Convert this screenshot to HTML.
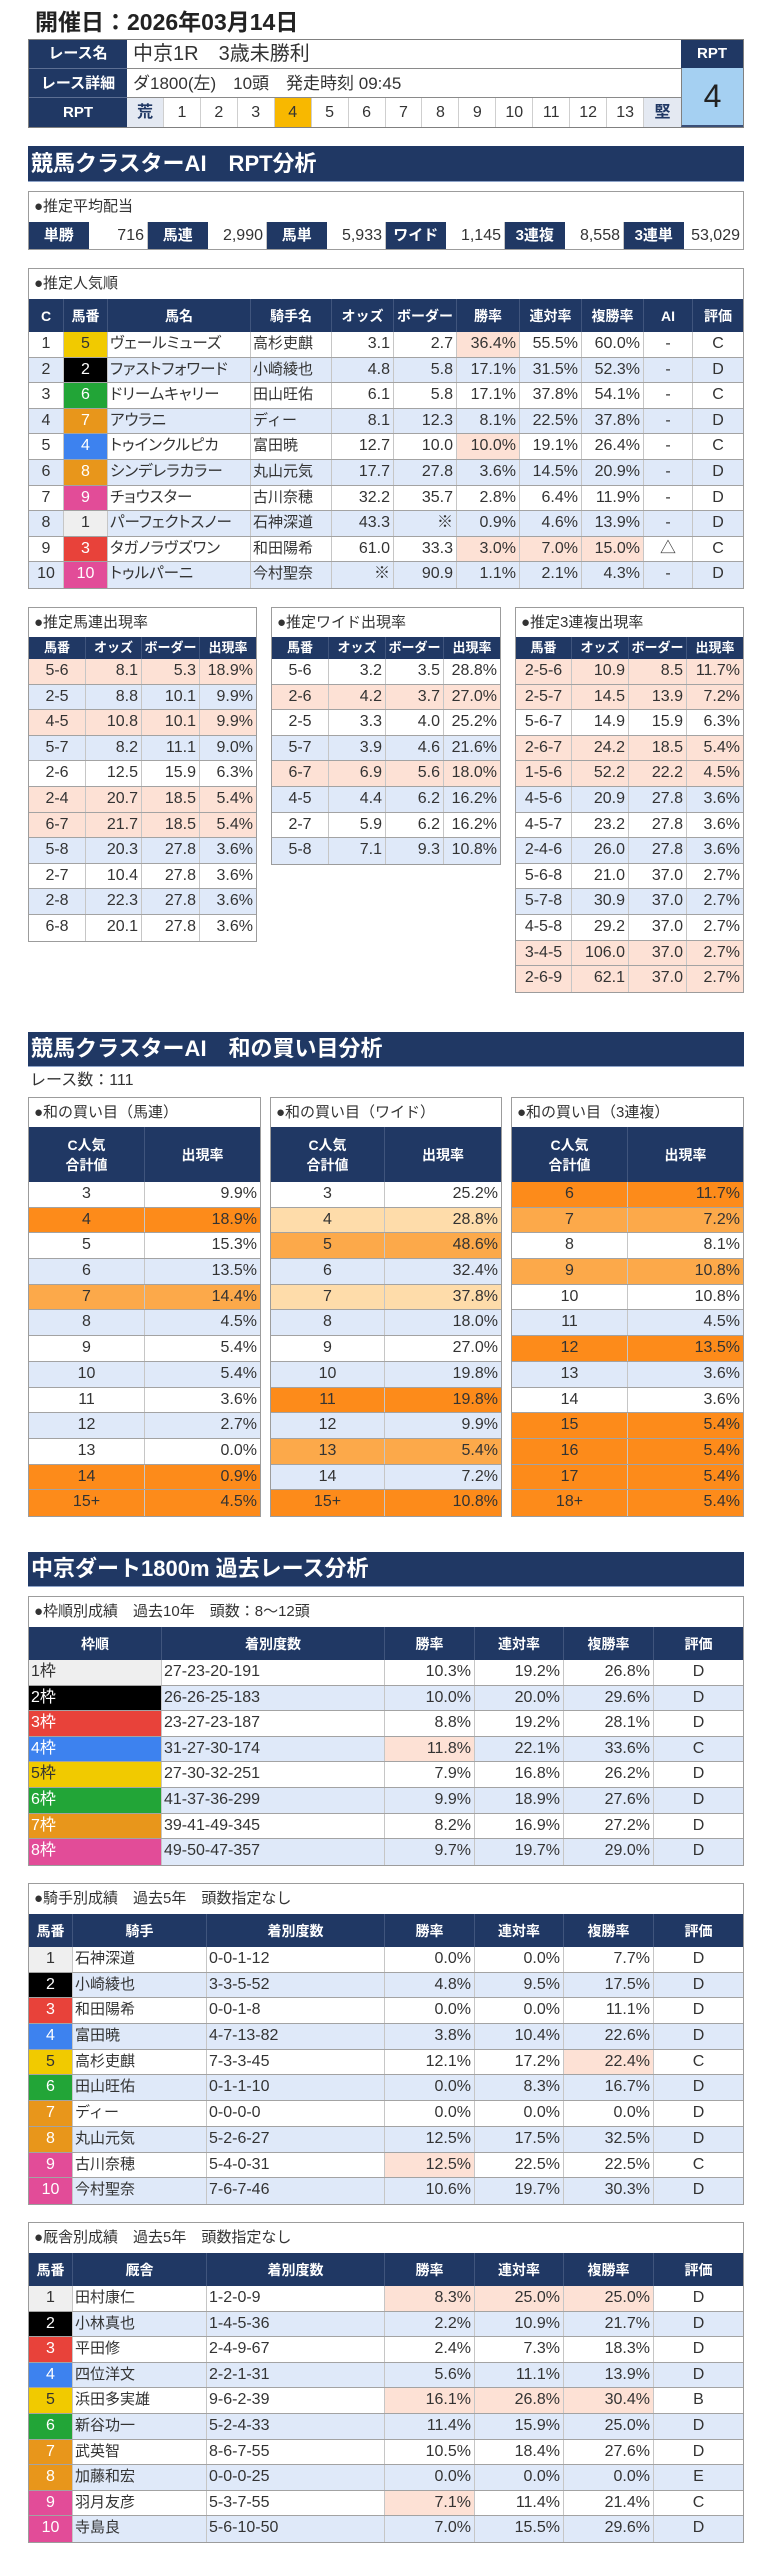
<!DOCTYPE html>
<html><head><meta charset="utf-8"><style>
*{box-sizing:border-box;margin:0;padding:0}
html,body{width:767px;height:2560px}
body{position:relative;background:#fff;font-family:"Liberation Sans","Noto Sans CJK JP",sans-serif;color:#333;overflow:hidden}
.title{position:absolute;left:35px;top:8px;font-size:23px;font-weight:bold;line-height:28px;color:#222;white-space:nowrap}
.bar{position:absolute;left:28px;width:716px;background:#203864;color:#fff;font-weight:bold;font-size:22px;padding-left:3px;border-bottom:1px solid #8ea4c9;white-space:nowrap}
.box{position:absolute;border:1px solid #9c9c9c;background:#fff}
.cap{height:30px;line-height:30px;font-size:15px;padding-left:5px;color:#333;white-space:nowrap}
.h,.r{display:grid}
.h{background:#203864;color:#fff;font-weight:bold;font-size:14px}
.h>div{display:flex;align-items:center;justify-content:center;text-align:center;border-right:1px solid #40557d;line-height:20px;white-space:nowrap}
.h>div:last-child,.r>div:last-child{border-right:none}
.r{height:25.6px;border-bottom:1px solid #a3a3a3}
.r:last-child{border-bottom:none}
.r>div{border-right:1px solid #c6c6c6;font-size:16px;line-height:24.6px;white-space:nowrap;overflow:hidden;padding:0 3px}
.b{background:#dfe9f9}
.r>div.s{background:#fde1d5}
.r.s{background:#fde1d5}
.r.od,.r>div.od{background:#fd8b1a}
.r.om,.r>div.om{background:#fca94a}
.r.ol,.r>div.ol{background:#fedcaa}
.R{text-align:right}
.C{text-align:center}
.L{padding-left:2px!important}
.nm{font-size:15.5px!important;font-feature-settings:"palt";padding-left:2px!important}
.jk{font-size:15px!important;padding-left:2px!important}
.r>div.f1{background:#efefef;color:#333}
.r>div.f2{background:#000;color:#fff}
.r>div.f3{background:#e8423a;color:#fff}
.r>div.f4{background:#3d82ef;color:#fff}
.r>div.f5{background:#f1ca00;color:#333}
.r>div.f6{background:#22a537;color:#fff}
.r>div.f7{background:#e8961b;color:#fff}
.r>div.f8{background:#e24c98;color:#fff}
.pop .h,.pop .r{grid-template-columns:35px 44px 143px 81px 62px 63px 63px 62px 62px 49px 1fr}
.sm .h{height:22px;font-size:13px}
.sm1 .h,.sm1 .r{grid-template-columns:57px 56px 58px 1fr}
.sm2 .h,.sm2 .r{grid-template-columns:57px 57px 58px 1fr}
.sm3 .h,.sm3 .r{grid-template-columns:56px 57px 58px 1fr}
.buy .h{height:55px}
.buy .r{height:25.7px}
.buy1 .h,.buy1 .r{grid-template-columns:116px 1fr}
.buy2 .h,.buy2 .r{grid-template-columns:114px 1fr}
.buy3 .h,.buy3 .r{grid-template-columns:116px 1fr}
.frm .h,.frm .r{grid-template-columns:133px 223px 90px 89px 90px 1fr}
.jt .h,.jt .r{grid-template-columns:44px 134px 178px 90px 89px 90px 1fr}
.h33{height:33px}
.hdr{position:absolute;left:28px;top:39px;width:716px;height:89px;border:1px solid #808080;background:#fff}
.hdr>div{position:absolute}
.lab{left:0;width:98px;background:#203864;color:#fff;font-weight:bold;font-size:15px;text-align:center;border-bottom:1px solid #5d6f93}
.val{left:98px;width:554px;border-bottom:1px solid #8a8a8a;padding-left:6px;white-space:nowrap}
.rptrow{display:grid;grid-template-columns:repeat(15,1fr)}
.rptrow>div{text-align:center;font-size:16px;line-height:29px;border-right:1px solid #cfcfcf}
.pay{display:grid;grid-template-columns:repeat(12,1fr);height:27px}
.pay>div{line-height:27px;font-size:16px;white-space:nowrap}
.pay .pl{background:#203864;color:#fff;font-weight:bold;font-size:15px;text-align:center}
.pay .pv{text-align:right;padding-right:3px;border-right:1px solid #c6c6c6}
</style></head><body>

<div class="title">開催日：2026年03月14日</div>

<div class="hdr">
  <div class="lab" style="top:0;height:28.5px;line-height:28px">レース名</div>
  <div class="lab" style="top:28.5px;height:29.5px;line-height:29px">レース詳細</div>
  <div class="lab" style="top:58px;height:29px;line-height:29px;border-bottom:none">RPT</div>
  <div class="val" style="top:0;height:28.5px;line-height:28px;font-size:20px">中京1R　3歳未勝利</div>
  <div class="val" style="top:28.5px;height:29.5px;line-height:29px;font-size:17px">ダ1800(左)　10頭　発走時刻 09:45</div>
  <div class="rptrow" style="left:98px;top:58px;width:554px;height:29px">
    <div style="background:#e4e9f2;color:#203864;font-weight:bold">荒</div><div>1</div><div>2</div><div>3</div><div style="background:#f8b800">4</div><div>5</div><div>6</div><div>7</div><div>8</div><div>9</div><div>10</div><div>11</div><div>12</div><div>13</div><div style="background:#e4e9f2;color:#203864;font-weight:bold;border-right:none">堅</div>
  </div>
  <div style="left:652px;top:0;width:62px;height:28px;background:#203864;color:#fff;font-weight:bold;font-size:15px;text-align:center;line-height:28px">RPT</div>
  <div style="left:652px;top:28px;width:62px;height:59px;background:#a5d0f2;color:#222;font-size:32px;text-align:center;line-height:57px;border-bottom:2px solid #3a4f78;border-left:1px solid #808080">4</div>
</div>

<div class="bar" style="top:146px;height:36px;line-height:35px">競馬クラスターAI　RPT分析</div>

<div class="box" style="left:28px;top:191px;width:716px">
  <div class="cap">●推定平均配当</div>
  <div class="pay">
    <div class="pl">単勝</div><div class="pv">716</div>
    <div class="pl">馬連</div><div class="pv">2,990</div>
    <div class="pl">馬単</div><div class="pv">5,933</div>
    <div class="pl">ワイド</div><div class="pv">1,145</div>
    <div class="pl">3連複</div><div class="pv">8,558</div>
    <div class="pl">3連単</div><div class="pv" style="border-right:none">53,029</div>
  </div>
</div>

<div class="box pop" style="left:28px;top:268px;width:716px">
  <div class="cap">●推定人気順</div>
  <div class="h h33"><div>C</div><div>馬番</div><div>馬名</div><div>騎手名</div><div>オッズ</div><div>ボーダー</div><div>勝率</div><div>連対率</div><div>複勝率</div><div>AI</div><div>評価</div></div>
  <div class="r"><div class="C">1</div><div class="C f5">5</div><div class="nm">ヴェールミューズ</div><div class="jk">高杉吏麒</div><div class="R">3.1</div><div class="R">2.7</div><div class="R s">36.4%</div><div class="R">55.5%</div><div class="R">60.0%</div><div class="C">-</div><div class="C">C</div></div>
  <div class="r b"><div class="C">2</div><div class="C f2">2</div><div class="nm">ファストフォワード</div><div class="jk">小崎綾也</div><div class="R">4.8</div><div class="R">5.8</div><div class="R">17.1%</div><div class="R">31.5%</div><div class="R">52.3%</div><div class="C">-</div><div class="C">D</div></div>
  <div class="r"><div class="C">3</div><div class="C f6">6</div><div class="nm">ドリームキャリー</div><div class="jk">田山旺佑</div><div class="R">6.1</div><div class="R">5.8</div><div class="R">17.1%</div><div class="R">37.8%</div><div class="R">54.1%</div><div class="C">-</div><div class="C">C</div></div>
  <div class="r b"><div class="C">4</div><div class="C f7">7</div><div class="nm">アウラニ</div><div class="jk">ディー</div><div class="R">8.1</div><div class="R">12.3</div><div class="R">8.1%</div><div class="R">22.5%</div><div class="R">37.8%</div><div class="C">-</div><div class="C">D</div></div>
  <div class="r"><div class="C">5</div><div class="C f4">4</div><div class="nm">トゥインクルピカ</div><div class="jk">富田暁</div><div class="R">12.7</div><div class="R">10.0</div><div class="R s">10.0%</div><div class="R">19.1%</div><div class="R">26.4%</div><div class="C">-</div><div class="C">C</div></div>
  <div class="r b"><div class="C">6</div><div class="C f7">8</div><div class="nm">シンデレラカラー</div><div class="jk">丸山元気</div><div class="R">17.7</div><div class="R">27.8</div><div class="R">3.6%</div><div class="R">14.5%</div><div class="R">20.9%</div><div class="C">-</div><div class="C">D</div></div>
  <div class="r"><div class="C">7</div><div class="C f8">9</div><div class="nm">チョウスター</div><div class="jk">古川奈穂</div><div class="R">32.2</div><div class="R">35.7</div><div class="R">2.8%</div><div class="R">6.4%</div><div class="R">11.9%</div><div class="C">-</div><div class="C">D</div></div>
  <div class="r b"><div class="C">8</div><div class="C f1">1</div><div class="nm">パーフェクトスノー</div><div class="jk">石神深道</div><div class="R">43.3</div><div class="R">※</div><div class="R">0.9%</div><div class="R">4.6%</div><div class="R">13.9%</div><div class="C">-</div><div class="C">D</div></div>
  <div class="r"><div class="C">9</div><div class="C f3">3</div><div class="nm">タガノラヴズワン</div><div class="jk">和田陽希</div><div class="R">61.0</div><div class="R">33.3</div><div class="R s">3.0%</div><div class="R s">7.0%</div><div class="R s">15.0%</div><div class="C">△</div><div class="C">C</div></div>
  <div class="r b"><div class="C">10</div><div class="C f8">10</div><div class="nm">トゥルパーニ</div><div class="jk">今村聖奈</div><div class="R">※</div><div class="R">90.9</div><div class="R">1.1%</div><div class="R">2.1%</div><div class="R">4.3%</div><div class="C">-</div><div class="C">D</div></div>
</div>

<div class="box sm sm1" style="left:28px;top:607px;width:229px">
  <div class="cap" style="height:29px;line-height:29px">●推定馬連出現率</div>
  <div class="h"><div>馬番</div><div>オッズ</div><div>ボーダー</div><div>出現率</div></div>
  <div class="r s"><div class="C">5-6</div><div class="R">8.1</div><div class="R">5.3</div><div class="R">18.9%</div></div>
  <div class="r b"><div class="C">2-5</div><div class="R">8.8</div><div class="R">10.1</div><div class="R">9.9%</div></div>
  <div class="r s"><div class="C">4-5</div><div class="R">10.8</div><div class="R">10.1</div><div class="R">9.9%</div></div>
  <div class="r b"><div class="C">5-7</div><div class="R">8.2</div><div class="R">11.1</div><div class="R">9.0%</div></div>
  <div class="r"><div class="C">2-6</div><div class="R">12.5</div><div class="R">15.9</div><div class="R">6.3%</div></div>
  <div class="r s"><div class="C">2-4</div><div class="R">20.7</div><div class="R">18.5</div><div class="R">5.4%</div></div>
  <div class="r s"><div class="C">6-7</div><div class="R">21.7</div><div class="R">18.5</div><div class="R">5.4%</div></div>
  <div class="r b"><div class="C">5-8</div><div class="R">20.3</div><div class="R">27.8</div><div class="R">3.6%</div></div>
  <div class="r"><div class="C">2-7</div><div class="R">10.4</div><div class="R">27.8</div><div class="R">3.6%</div></div>
  <div class="r b"><div class="C">2-8</div><div class="R">22.3</div><div class="R">27.8</div><div class="R">3.6%</div></div>
  <div class="r"><div class="C">6-8</div><div class="R">20.1</div><div class="R">27.8</div><div class="R">3.6%</div></div>
</div>

<div class="box sm sm2" style="left:271px;top:607px;width:230px">
  <div class="cap" style="height:29px;line-height:29px">●推定ワイド出現率</div>
  <div class="h"><div>馬番</div><div>オッズ</div><div>ボーダー</div><div>出現率</div></div>
  <div class="r"><div class="C">5-6</div><div class="R">3.2</div><div class="R">3.5</div><div class="R">28.8%</div></div>
  <div class="r s"><div class="C">2-6</div><div class="R">4.2</div><div class="R">3.7</div><div class="R">27.0%</div></div>
  <div class="r"><div class="C">2-5</div><div class="R">3.3</div><div class="R">4.0</div><div class="R">25.2%</div></div>
  <div class="r b"><div class="C">5-7</div><div class="R">3.9</div><div class="R">4.6</div><div class="R">21.6%</div></div>
  <div class="r s"><div class="C">6-7</div><div class="R">6.9</div><div class="R">5.6</div><div class="R">18.0%</div></div>
  <div class="r b"><div class="C">4-5</div><div class="R">4.4</div><div class="R">6.2</div><div class="R">16.2%</div></div>
  <div class="r"><div class="C">2-7</div><div class="R">5.9</div><div class="R">6.2</div><div class="R">16.2%</div></div>
  <div class="r b"><div class="C">5-8</div><div class="R">7.1</div><div class="R">9.3</div><div class="R">10.8%</div></div>
</div>

<div class="box sm sm3" style="left:515px;top:607px;width:229px">
  <div class="cap" style="height:29px;line-height:29px">●推定3連複出現率</div>
  <div class="h"><div>馬番</div><div>オッズ</div><div>ボーダー</div><div>出現率</div></div>
  <div class="r s"><div class="C">2-5-6</div><div class="R">10.9</div><div class="R">8.5</div><div class="R">11.7%</div></div>
  <div class="r s"><div class="C">2-5-7</div><div class="R">14.5</div><div class="R">13.9</div><div class="R">7.2%</div></div>
  <div class="r"><div class="C">5-6-7</div><div class="R">14.9</div><div class="R">15.9</div><div class="R">6.3%</div></div>
  <div class="r s"><div class="C">2-6-7</div><div class="R">24.2</div><div class="R">18.5</div><div class="R">5.4%</div></div>
  <div class="r s"><div class="C">1-5-6</div><div class="R">52.2</div><div class="R">22.2</div><div class="R">4.5%</div></div>
  <div class="r b"><div class="C">4-5-6</div><div class="R">20.9</div><div class="R">27.8</div><div class="R">3.6%</div></div>
  <div class="r"><div class="C">4-5-7</div><div class="R">23.2</div><div class="R">27.8</div><div class="R">3.6%</div></div>
  <div class="r b"><div class="C">2-4-6</div><div class="R">26.0</div><div class="R">27.8</div><div class="R">3.6%</div></div>
  <div class="r"><div class="C">5-6-8</div><div class="R">21.0</div><div class="R">37.0</div><div class="R">2.7%</div></div>
  <div class="r b"><div class="C">5-7-8</div><div class="R">30.9</div><div class="R">37.0</div><div class="R">2.7%</div></div>
  <div class="r"><div class="C">4-5-8</div><div class="R">29.2</div><div class="R">37.0</div><div class="R">2.7%</div></div>
  <div class="r s"><div class="C">3-4-5</div><div class="R">106.0</div><div class="R">37.0</div><div class="R">2.7%</div></div>
  <div class="r s"><div class="C">2-6-9</div><div class="R">62.1</div><div class="R">37.0</div><div class="R">2.7%</div></div>
</div>

<div class="bar" style="top:1032px;height:35px;line-height:34px">競馬クラスターAI　和の買い目分析</div>
<div style="position:absolute;left:30px;top:1070px;font-size:16px;line-height:22px;color:#333">レース数：111</div>

<div class="box buy buy1" style="left:28px;top:1097px;width:233px">
  <div class="cap" style="height:29px;line-height:29px">●和の買い目（馬連）</div>
  <div class="h"><div>C人気<br>合計値</div><div>出現率</div></div>
  <div class="r"><div class="C">3</div><div class="R">9.9%</div></div>
  <div class="r od"><div class="C">4</div><div class="R">18.9%</div></div>
  <div class="r"><div class="C">5</div><div class="R">15.3%</div></div>
  <div class="r b"><div class="C">6</div><div class="R">13.5%</div></div>
  <div class="r om"><div class="C">7</div><div class="R">14.4%</div></div>
  <div class="r b"><div class="C">8</div><div class="R">4.5%</div></div>
  <div class="r"><div class="C">9</div><div class="R">5.4%</div></div>
  <div class="r b"><div class="C">10</div><div class="R">5.4%</div></div>
  <div class="r"><div class="C">11</div><div class="R">3.6%</div></div>
  <div class="r b"><div class="C">12</div><div class="R">2.7%</div></div>
  <div class="r"><div class="C">13</div><div class="R">0.0%</div></div>
  <div class="r od"><div class="C">14</div><div class="R">0.9%</div></div>
  <div class="r od"><div class="C">15+</div><div class="R">4.5%</div></div>
</div>

<div class="box buy buy2" style="left:270px;top:1097px;width:232px">
  <div class="cap" style="height:29px;line-height:29px">●和の買い目（ワイド）</div>
  <div class="h"><div>C人気<br>合計値</div><div>出現率</div></div>
  <div class="r"><div class="C">3</div><div class="R">25.2%</div></div>
  <div class="r ol"><div class="C">4</div><div class="R">28.8%</div></div>
  <div class="r om"><div class="C">5</div><div class="R">48.6%</div></div>
  <div class="r b"><div class="C">6</div><div class="R">32.4%</div></div>
  <div class="r ol"><div class="C">7</div><div class="R">37.8%</div></div>
  <div class="r b"><div class="C">8</div><div class="R">18.0%</div></div>
  <div class="r"><div class="C">9</div><div class="R">27.0%</div></div>
  <div class="r b"><div class="C">10</div><div class="R">19.8%</div></div>
  <div class="r od"><div class="C">11</div><div class="R">19.8%</div></div>
  <div class="r b"><div class="C">12</div><div class="R">9.9%</div></div>
  <div class="r om"><div class="C">13</div><div class="R">5.4%</div></div>
  <div class="r b"><div class="C">14</div><div class="R">7.2%</div></div>
  <div class="r od"><div class="C">15+</div><div class="R">10.8%</div></div>
</div>

<div class="box buy buy3" style="left:511px;top:1097px;width:233px">
  <div class="cap" style="height:29px;line-height:29px">●和の買い目（3連複）</div>
  <div class="h"><div>C人気<br>合計値</div><div>出現率</div></div>
  <div class="r od"><div class="C">6</div><div class="R">11.7%</div></div>
  <div class="r om"><div class="C">7</div><div class="R">7.2%</div></div>
  <div class="r"><div class="C">8</div><div class="R">8.1%</div></div>
  <div class="r om"><div class="C">9</div><div class="R">10.8%</div></div>
  <div class="r"><div class="C">10</div><div class="R">10.8%</div></div>
  <div class="r b"><div class="C">11</div><div class="R">4.5%</div></div>
  <div class="r od"><div class="C">12</div><div class="R">13.5%</div></div>
  <div class="r b"><div class="C">13</div><div class="R">3.6%</div></div>
  <div class="r"><div class="C">14</div><div class="R">3.6%</div></div>
  <div class="r od"><div class="C">15</div><div class="R">5.4%</div></div>
  <div class="r od"><div class="C">16</div><div class="R">5.4%</div></div>
  <div class="r od"><div class="C">17</div><div class="R">5.4%</div></div>
  <div class="r od"><div class="C">18+</div><div class="R">5.4%</div></div>
</div>

<div class="bar" style="top:1552px;height:35px;line-height:34px">中京ダート1800m 過去レース分析</div>

<div class="box frm" style="left:28px;top:1596px;width:716px">
  <div class="cap">●枠順別成績　過去10年　頭数：8～12頭</div>
  <div class="h h33"><div>枠順</div><div>着別度数</div><div>勝率</div><div>連対率</div><div>複勝率</div><div>評価</div></div>
  <div class="r"><div class="L f1">1枠</div><div class="L">27-23-20-191</div><div class="R">10.3%</div><div class="R">19.2%</div><div class="R">26.8%</div><div class="C">D</div></div>
  <div class="r b"><div class="L f2">2枠</div><div class="L">26-26-25-183</div><div class="R">10.0%</div><div class="R">20.0%</div><div class="R">29.6%</div><div class="C">D</div></div>
  <div class="r"><div class="L f3">3枠</div><div class="L">23-27-23-187</div><div class="R">8.8%</div><div class="R">19.2%</div><div class="R">28.1%</div><div class="C">D</div></div>
  <div class="r b"><div class="L f4">4枠</div><div class="L">31-27-30-174</div><div class="R s">11.8%</div><div class="R">22.1%</div><div class="R">33.6%</div><div class="C">C</div></div>
  <div class="r"><div class="L f5">5枠</div><div class="L">27-30-32-251</div><div class="R">7.9%</div><div class="R">16.8%</div><div class="R">26.2%</div><div class="C">D</div></div>
  <div class="r b"><div class="L f6">6枠</div><div class="L">41-37-36-299</div><div class="R">9.9%</div><div class="R">18.9%</div><div class="R">27.6%</div><div class="C">D</div></div>
  <div class="r"><div class="L f7">7枠</div><div class="L">39-41-49-345</div><div class="R">8.2%</div><div class="R">16.9%</div><div class="R">27.2%</div><div class="C">D</div></div>
  <div class="r b"><div class="L f8">8枠</div><div class="L">49-50-47-357</div><div class="R">9.7%</div><div class="R">19.7%</div><div class="R">29.0%</div><div class="C">D</div></div>
</div>

<div class="box jt" style="left:28px;top:1883px;width:716px">
  <div class="cap">●騎手別成績　過去5年　頭数指定なし</div>
  <div class="h h33"><div>馬番</div><div>騎手</div><div>着別度数</div><div>勝率</div><div>連対率</div><div>複勝率</div><div>評価</div></div>
  <div class="r" style="height:25.7px"><div class="C f1">1</div><div class="jk">石神深道</div><div class="L">0-0-1-12</div><div class="R">0.0%</div><div class="R">0.0%</div><div class="R">7.7%</div><div class="C">D</div></div>
  <div class="r b" style="height:25.7px"><div class="C f2">2</div><div class="jk">小崎綾也</div><div class="L">3-3-5-52</div><div class="R">4.8%</div><div class="R">9.5%</div><div class="R">17.5%</div><div class="C">D</div></div>
  <div class="r" style="height:25.7px"><div class="C f3">3</div><div class="jk">和田陽希</div><div class="L">0-0-1-8</div><div class="R">0.0%</div><div class="R">0.0%</div><div class="R">11.1%</div><div class="C">D</div></div>
  <div class="r b" style="height:25.7px"><div class="C f4">4</div><div class="jk">富田暁</div><div class="L">4-7-13-82</div><div class="R">3.8%</div><div class="R">10.4%</div><div class="R">22.6%</div><div class="C">D</div></div>
  <div class="r" style="height:25.7px"><div class="C f5">5</div><div class="jk">高杉吏麒</div><div class="L">7-3-3-45</div><div class="R">12.1%</div><div class="R">17.2%</div><div class="R s">22.4%</div><div class="C">C</div></div>
  <div class="r b" style="height:25.7px"><div class="C f6">6</div><div class="jk">田山旺佑</div><div class="L">0-1-1-10</div><div class="R">0.0%</div><div class="R">8.3%</div><div class="R">16.7%</div><div class="C">D</div></div>
  <div class="r" style="height:25.7px"><div class="C f7">7</div><div class="jk">ディー</div><div class="L">0-0-0-0</div><div class="R">0.0%</div><div class="R">0.0%</div><div class="R">0.0%</div><div class="C">D</div></div>
  <div class="r b" style="height:25.7px"><div class="C f7">8</div><div class="jk">丸山元気</div><div class="L">5-2-6-27</div><div class="R">12.5%</div><div class="R">17.5%</div><div class="R">32.5%</div><div class="C">D</div></div>
  <div class="r" style="height:25.7px"><div class="C f8">9</div><div class="jk">古川奈穂</div><div class="L">5-4-0-31</div><div class="R s">12.5%</div><div class="R">22.5%</div><div class="R">22.5%</div><div class="C">C</div></div>
  <div class="r b" style="height:25.7px"><div class="C f8">10</div><div class="jk">今村聖奈</div><div class="L">7-6-7-46</div><div class="R">10.6%</div><div class="R">19.7%</div><div class="R">30.3%</div><div class="C">D</div></div>
</div>

<div class="box jt" style="left:28px;top:2222px;width:716px">
  <div class="cap">●厩舎別成績　過去5年　頭数指定なし</div>
  <div class="h h33"><div>馬番</div><div>厩舎</div><div>着別度数</div><div>勝率</div><div>連対率</div><div>複勝率</div><div>評価</div></div>
  <div class="r"><div class="C f1">1</div><div class="jk">田村康仁</div><div class="L">1-2-0-9</div><div class="R s">8.3%</div><div class="R s">25.0%</div><div class="R s">25.0%</div><div class="C">D</div></div>
  <div class="r b"><div class="C f2">2</div><div class="jk">小林真也</div><div class="L">1-4-5-36</div><div class="R">2.2%</div><div class="R">10.9%</div><div class="R">21.7%</div><div class="C">D</div></div>
  <div class="r"><div class="C f3">3</div><div class="jk">平田修</div><div class="L">2-4-9-67</div><div class="R">2.4%</div><div class="R">7.3%</div><div class="R">18.3%</div><div class="C">D</div></div>
  <div class="r b"><div class="C f4">4</div><div class="jk">四位洋文</div><div class="L">2-2-1-31</div><div class="R">5.6%</div><div class="R">11.1%</div><div class="R">13.9%</div><div class="C">D</div></div>
  <div class="r"><div class="C f5">5</div><div class="jk">浜田多実雄</div><div class="L">9-6-2-39</div><div class="R s">16.1%</div><div class="R s">26.8%</div><div class="R s">30.4%</div><div class="C">B</div></div>
  <div class="r b"><div class="C f6">6</div><div class="jk">新谷功一</div><div class="L">5-2-4-33</div><div class="R">11.4%</div><div class="R">15.9%</div><div class="R">25.0%</div><div class="C">D</div></div>
  <div class="r"><div class="C f7">7</div><div class="jk">武英智</div><div class="L">8-6-7-55</div><div class="R">10.5%</div><div class="R">18.4%</div><div class="R">27.6%</div><div class="C">D</div></div>
  <div class="r b"><div class="C f7">8</div><div class="jk">加藤和宏</div><div class="L">0-0-0-25</div><div class="R">0.0%</div><div class="R">0.0%</div><div class="R">0.0%</div><div class="C">E</div></div>
  <div class="r"><div class="C f8">9</div><div class="jk">羽月友彦</div><div class="L">5-3-7-55</div><div class="R s">7.1%</div><div class="R">11.4%</div><div class="R">21.4%</div><div class="C">C</div></div>
  <div class="r b"><div class="C f8">10</div><div class="jk">寺島良</div><div class="L">5-6-10-50</div><div class="R">7.0%</div><div class="R">15.5%</div><div class="R">29.6%</div><div class="C">D</div></div>
</div>

</body></html>
